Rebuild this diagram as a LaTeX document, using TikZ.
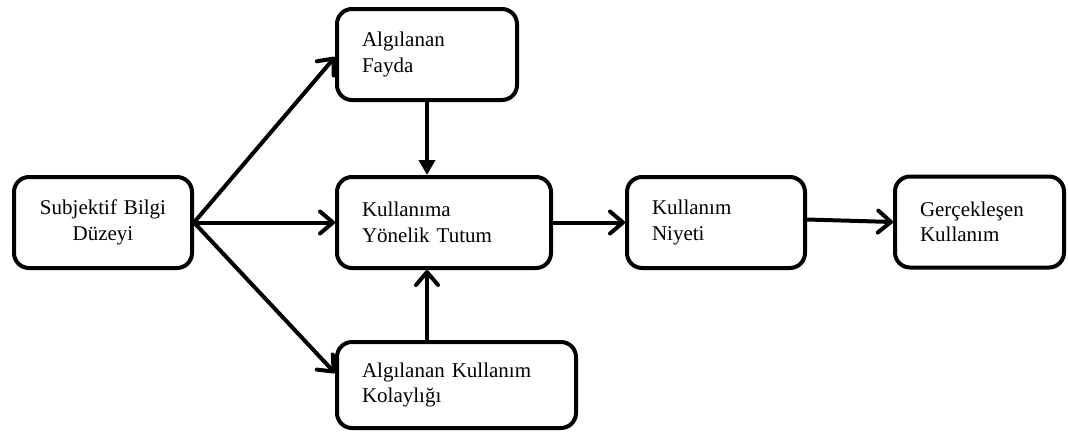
\documentclass[tikz,border=0pt]{standalone}
\usepackage{fontspec}
\setmainfont{Liberation Serif}
\usetikzlibrary{arrows.meta}
\begin{document}
\begin{tikzpicture}[x=1pt,y=1pt,
  box/.style={draw, line width=4pt, rounded corners=15pt, inner ysep=0pt,
    inner xsep=25pt, minimum height=91pt, align=left,
    font=\fontsize{21pt}{25.5pt}\selectfont},
  cbox/.style={box, align=center, inner xsep=5pt},
  conn/.style={line width=4pt, -{Straight Barb[length=13pt,width=22pt,line cap=round,line join=round]}},
  tconn/.style={line width=4pt, -{Triangle[length=15pt,width=16pt]}}
]
\useasboundingbox (0,0) rectangle (1068,-432);
\node[cbox, text width=168pt] (sub) at (103,-222.5) {Subjektif Bilgi\\Düzeyi};
\node[box, text width=130pt] (fay) at (427,-54.5) {Algılanan\\Fayda};
\node[box, text width=164pt] (kul) at (444,-222.5) {Kullanıma\\Yönelik Tutum};
\node[box, text width=128pt] (niy) at (716,-222.5) {Kullanım\\Niyeti};
\node[box, text width=119pt] (ger) at (979.5,-222) {Gerçekleşen\\Kullanım};
\node[box, text width=189pt, minimum height=86pt] (kol) at (456.5,-385) {Algılanan Kullanım\\Kolaylığı};
\draw[conn] (sub.east) -- ([yshift=-2.5pt]fay.west);
\draw[conn] (sub.east) -- (kul.west);
\draw[conn] (sub.east) -- ([yshift=12pt]kol.west);
\draw[tconn] (fay.south) -- (fay.south |- kul.north);
\draw[conn] (kol.north -| fay.south) -- (fay.south |- kul.south);
\draw[conn] (kul.east) -- (niy.west);
\draw[conn] ([yshift=3pt]niy.east) -- (ger.west);
\end{tikzpicture}
\end{document}
